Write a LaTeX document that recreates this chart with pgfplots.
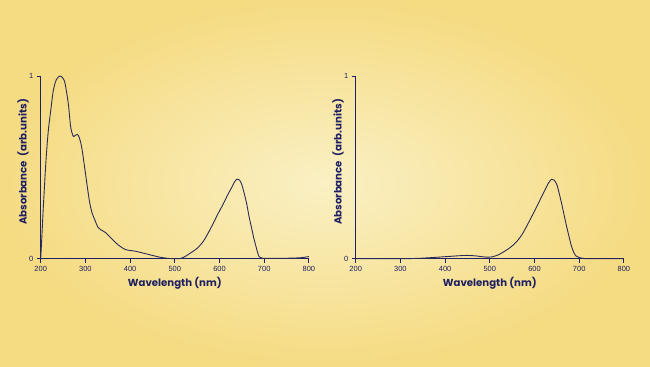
\documentclass[border=0pt]{standalone}
\usepackage{fontspec}
\setmainfont{Liberation Sans}
\newfontfamily\labfont{Poppins}
\usepackage{pgfplots}
\pgfplotsset{compat=1.18}
\definecolor{navy}{HTML}{1E2062}
\definecolor{curve}{HTML}{2A2B58}
\definecolor{bgin}{HTML}{FAF0C4}
\definecolor{bgout}{HTML}{F5DB82}

\pgfplotsset{
  specax/.style={
    scale only axis, width=268.2bp, height=182.7bp,
    xmin=200, xmax=800, ymin=0, ymax=1,
    axis lines=left,
    axis line style={-, line width=1.3bp, navy},
    xtick={200,300,...,800}, ytick={0,1},
    tick align=outside, major tick length=4bp,
    tick style={line width=0.9bp, navy},
    /pgf/number format/assume math mode=true,
    ticklabel style={font=\fontsize{7.5}{8.5}\selectfont, text=navy},
    clip=false,
    xlabel={Wavelength (nm)},
    ylabel={Absorbance\hspace{0.25em} (arb.units)},
    label style={font=\labfont\bfseries\fontsize{10.2}{12}\selectfont, text=navy},
    xlabel style={at={(axis description cs:0.5,0)}, anchor=center, yshift=-24.3bp},
    ylabel style={at={(axis description cs:-0.066,0.53)}, anchor=center},
  }
}

\pgfplotstableread{
x y
200 0
203 0.14
205.8 0.28
211.9 0.54
217 0.70
222.4 0.81
228.2 0.92
235 0.98
243 1.0
249 0.99
254.4 0.96
261.7 0.85
267.1 0.72
272.9 0.67
277 0.675
281.9 0.68
286 0.665
291.7 0.61
299.1 0.485
308.7 0.32
315 0.25
321.5 0.21
328 0.172
335 0.157
344 0.145
358.8 0.11
373.6 0.075
388.6 0.051
400 0.045
410 0.042
437.1 0.026
466.9 0.008
489.3 0.001
500 0
512 0.001
523 0.012
534.3 0.03
550 0.057
563.8 0.095
575 0.142
586.1 0.194
597 0.248
608.5 0.30
618 0.348
627.3 0.39
634 0.422
639.8 0.436
645 0.43
650 0.405
655 0.36
660.9 0.30
666 0.232
672 0.166
677 0.11
681.7 0.066
685.5 0.032
689 0.01
695 0.003
720 0.002
760 0.003
785 0.006
800 0.012
}\leftdata

\pgfplotstableread{
x y
200 0
300 0
340 0.002
370 0.006
400 0.011
430 0.016
450 0.018
470 0.015
490 0.009
505 0.01
520 0.022
530 0.036
545 0.06
560 0.093
572 0.132
582.5 0.178
594 0.232
605 0.285
615 0.335
623.5 0.377
632 0.417
638.5 0.435
644 0.43
650 0.405
655 0.36
660.8 0.30
667 0.23
672 0.175
678 0.113
683 0.066
688 0.034
692.8 0.015
700 0.006
709 0.002
720 0
800 0
}\rightdata

\begin{document}
\begin{tikzpicture}[x=1bp,y=1bp]
\shade[inner color=bgin, outer color=bgout] (0,0) rectangle (650,366);
\begin{axis}[specax, at={(40.7bp,107.3bp)}, anchor=south west]
\addplot[curve, line width=0.9bp, smooth, tension=0.5] table[x=x,y=y] {\leftdata};
\end{axis}
\begin{axis}[specax, at={(355.7bp,107.3bp)}, anchor=south west]
\addplot[curve, line width=0.9bp, smooth, tension=0.5] table[x=x,y=y] {\rightdata};
\end{axis}
\end{tikzpicture}
\end{document}
